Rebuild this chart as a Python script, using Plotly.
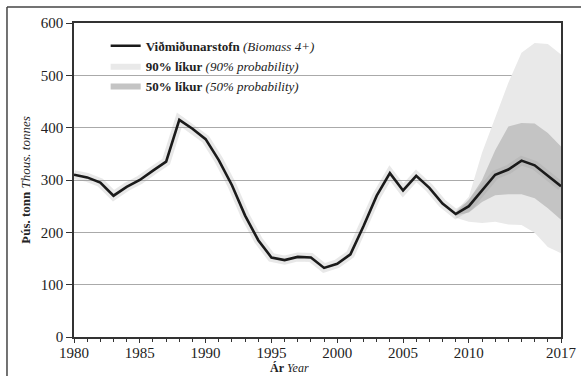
import plotly.graph_objects as go

# Viðmiðunarstofn (Biomass 4+), þús. tonn
ar = list(range(1980, 2018))
stofn = [310, 305, 295, 270, 287, 300, 318, 335, 415, 398,
         378, 338, 290, 232, 185, 152, 147, 153, 152, 132,
         140, 158, 212, 270, 313, 280, 308, 285, 255, 235,
         250, 280, 310, 320, 337, 328, 308, 288]

# spá / óvissubil
spa_ar = [2009, 2010, 2011, 2012, 2013, 2014, 2015, 2016, 2017]
p90_efri = [240, 268, 352, 421, 486, 543, 562, 560, 540]
p90_nedri = [228, 220, 218, 220, 215, 214, 199, 172, 160]
p50_efri = [238, 262, 300, 357, 402, 409, 408, 390, 364]
p50_nedri = [232, 238, 258, 271, 273, 273, 265, 246, 224]

x_tick_vals = [1980, 1985, 1990, 1995, 2000, 2005, 2010, 2017]

serif = "Liberation Serif"
fig = go.Figure()

fig.add_trace(go.Scatter(x=spa_ar, y=p90_efri, mode="lines", line=dict(width=0),
                         showlegend=False, hoverinfo="skip"))
fig.add_trace(go.Scatter(x=spa_ar, y=p90_nedri, mode="lines", line=dict(width=0),
                         fill="tonexty", fillcolor="#e9e9e9", legendrank=2,
                         name="<b>90% líkur</b> <i>(90% probability)</i>"))
fig.add_trace(go.Scatter(x=spa_ar, y=p50_efri, mode="lines", line=dict(width=0),
                         showlegend=False, hoverinfo="skip"))
fig.add_trace(go.Scatter(x=spa_ar, y=p50_nedri, mode="lines", line=dict(width=0),
                         fill="tonexty", fillcolor="#c4c4c4", legendrank=3,
                         name="<b>50% líkur</b> <i>(50% probability)</i>"))

# ljós skuggi kringum línuna
fig.add_trace(go.Scatter(x=ar, y=stofn, mode="lines",
                         line=dict(color="rgba(150,150,150,0.22)", width=9),
                         showlegend=False, hoverinfo="skip"))
fig.add_trace(go.Scatter(x=ar, y=stofn, mode="lines",
                         line=dict(color="#1a1a1a", width=2.6), legendrank=1,
                         name="<b>Viðmiðunarstofn</b> <i>(Biomass 4+)</i>"))

fig.update_layout(
    width=581, height=376,
    margin=dict(l=74, r=20, t=23, b=39),
    paper_bgcolor="white", plot_bgcolor="white",
    font=dict(family=serif, color="#222", size=15),
    legend=dict(x=0.065, y=0.975, xanchor="left", yanchor="top",
                traceorder="normal",
                font=dict(size=13, family=serif),
                bgcolor="rgba(0,0,0,0)", tracegroupgap=0, itemwidth=30),
    showlegend=True,
)

fig.update_xaxes(
    range=[1980, 2017], tickvals=x_tick_vals, automargin=False,
    showline=True, linecolor="#333", linewidth=1.5, mirror=True,
    ticks="outside", ticklen=4, tickcolor="#333", ticklabelstandoff=-3,
    minor=dict(dtick=1, ticks="outside", ticklen=3, tickcolor="#333"),
    showgrid=False, zeroline=False,
    tickfont=dict(size=15, family=serif),
)
fig.update_yaxes(
    range=[0, 600], dtick=100, automargin=False,
    showline=True, linecolor="#333", linewidth=1.5, mirror=True,
    ticks="outside", ticklen=6, tickcolor="#333",
    showgrid=True, gridcolor="#aaaaaa", gridwidth=0.8,
    zeroline=False,
    tickfont=dict(size=15, family=serif),
    title=dict(text="<b>Þús. tonn</b> <i>Thous. tonnes</i>", font=dict(size=13, family=serif), standoff=7),
)

# x-ás titill
fig.add_annotation(text="<b>Ár</b> <i>Year</i>", xref="paper", yref="paper",
                   x=0.4435, y=-0.098, xanchor="center", yanchor="middle",
                   showarrow=False, font=dict(size=12, family=serif))

# ytri rammi (vinstri og efri brún)
fig.add_shape(type="line", xref="paper", yref="paper",
              x0=-0.1376, x1=-0.1376, y0=-0.2, y1=1.051,
              line=dict(color="#444", width=1.5))
fig.add_shape(type="line", xref="paper", yref="paper",
              x0=-0.1376, x1=1.1, y0=1.051, y1=1.051,
              line=dict(color="#444", width=1.5))

fig.write_html("out.html", config={"displayModeBar": False},
               post_script="document.body.style.margin='0';document.body.style.overflow='hidden';")
